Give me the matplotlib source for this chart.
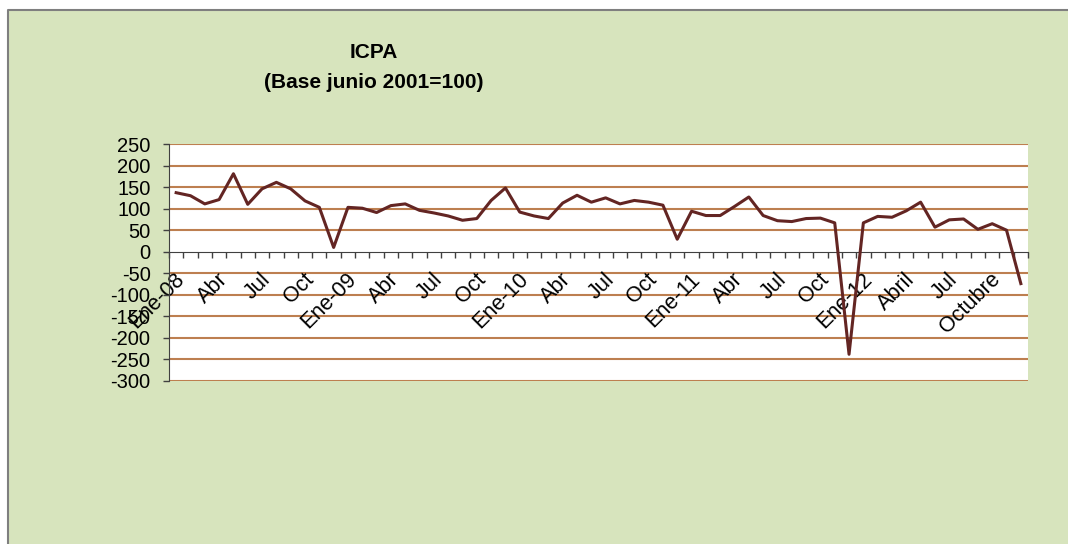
import matplotlib
matplotlib.use('Agg')
import matplotlib.pyplot as plt
import matplotlib.transforms as mtransforms
from matplotlib.patches import Rectangle
from matplotlib.lines import Line2D

# ICPA monthly values, Ene-08 .. Dic-12
icpa = [137, 130, 111, 121, 181, 110, 146, 161, 146, 118, 103, 10,
        103, 101, 91, 107, 111, 96, 90, 83, 73, 77, 119, 148,
        92, 83, 77, 113, 131, 115, 125, 111, 119, 115, 108, 29,
        94, 84, 84, 105, 127, 84, 72, 70, 77, 78, 67, -238,
        67, 82, 80, 95, 115, 57, 74, 76, 52, 65, 50, -74]

# one label every three months
tick_labels = ['Ene-08', 'Abr', 'Jul', 'Oct',
               'Ene-09', 'Abr', 'Jul', 'Oct',
               'Ene-10', 'Abr', 'Jul', 'Oct',
               'Ene-11', 'Abr', 'Jul', 'Oct',
               'Ene-12', 'Abril', 'Jul', 'Octubre']

y_ticks = [250, 200, 150, 100, 50, 0, -50, -100, -150, -200, -250, -300]

plt.rcParams['font.family'] = ['Liberation Sans', 'DejaVu Sans']

W, H = 1068, 544
fig = plt.figure(figsize=(W / 100, H / 100), dpi=100)
fig.patch.set_facecolor('white')

# green chart area, grey frame on top and left only
fig.patches.append(Rectangle((8 / W, 0), 1, 1 - 10 / H,
                             transform=fig.transFigure, facecolor='#D7E4BD',
                             edgecolor='none', zorder=-5))
fig.lines.append(Line2D([8 / W, 8 / W, 1.01], [0, 1 - 10 / H, 1 - 10 / H],
                        transform=fig.transFigure, color='#7F7F7F',
                        linewidth=1.5, zorder=-4))

ax = fig.add_axes([169 / W, 1 - 381 / H, (1028 - 169) / W, (381 - 144) / H])
ax.set_facecolor('white')
ax.set_zorder(2)

x = list(range(len(icpa)))

for v in y_ticks:
    if v != 0:
        ax.axhline(v, color='#BD7F50', linewidth=1.5, zorder=1)

ax.plot(x, icpa, color='#632523', linewidth=2.2, zorder=3, clip_on=False)

ax.set_xlim(-0.5, len(icpa) - 0.5)
ax.set_ylim(-300, 250)

# spines
for s in ['top', 'right']:
    ax.spines[s].set_visible(False)
ax.spines['left'].set_color('#404040')
ax.spines['bottom'].set_position(('data', 0))
ax.spines['bottom'].set_color('#404040')
ax.spines['bottom'].set_zorder(2)

ax.set_yticks(y_ticks)
ax.set_yticklabels([str(v) for v in y_ticks], fontsize=14.5)
ax.tick_params(axis='y', length=4.3, width=1, color='#404040', pad=9)

# tick marks between categories, labels on every third category
ax.set_xticks([i - 0.5 for i in range(len(icpa) + 1)])
ax.set_xticklabels([])
ax.tick_params(axis='x', which='major', length=4, width=1, color='#404040', direction='out')
ax.set_xticks(list(range(0, len(icpa), 3)), minor=True)
ax.set_xticklabels(tick_labels, minor=True, rotation=45, ha='right',
                   rotation_mode='anchor', fontsize=15.5)
ax.tick_params(axis='x', which='minor', length=0, pad=12.5)
shift = mtransforms.ScaledTranslation(-2 / 100, 0, fig.dpi_scale_trans)
for lab in ax.get_xticklabels(minor=True):
    lab.set_transform(lab.get_transform() + shift)

fig.text(374 / W, 1 - 53 / H, 'ICPA', ha='center', va='center',
         fontsize=15, fontweight='bold')
fig.text(374 / W, 1 - 83 / H, '(Base junio 2001=100)', ha='center', va='center',
         fontsize=15, fontweight='bold')

fig.savefig('out.png', dpi=100, facecolor=fig.get_facecolor())
plt.close(fig)
